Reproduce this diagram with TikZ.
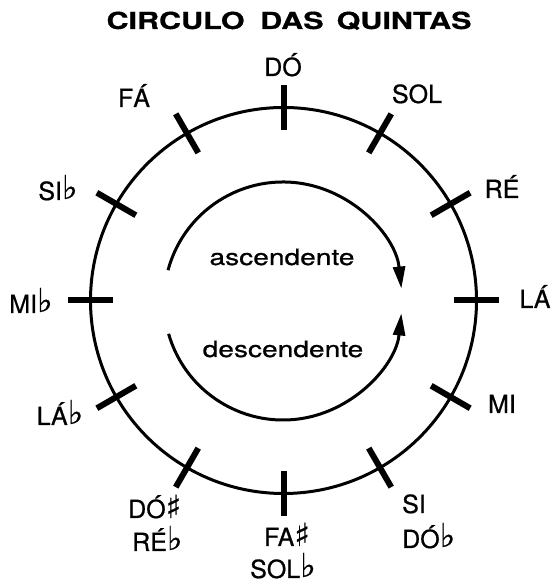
\documentclass[tikz,border=0pt]{standalone}
\usepackage{fontspec}
\setmainfont{TeX Gyre Heros}
\newfontfamily\medfont{TeX Gyre Heros}[FakeBold=0.7]
\newfontfamily\heavyfont{TeX Gyre Heros Bold}[FakeBold=0.6]
\newfontfamily\dejavu{DejaVu Sans}[FakeBold=0.5]
\usetikzlibrary{arrows.meta,calc}
\newcommand\myflat{\raisebox{1pt}{\dejavu\fontsize{33}{33}\selectfont\char"266D}}
\newcommand\mysharp{{\dejavu\fontsize{32}{32}\selectfont\char"266F}}
\begin{document}
\begin{tikzpicture}[x=1pt,y=1pt,
  lbl/.style={inner sep=0pt, font=\medfont\fontsize{25}{25}\selectfont, anchor=base},
  lbll/.style={lbl, anchor=base west},
  inner/.style={inner sep=0pt, anchor=base, font=\medfont\fontsize{22.5}{22.5}\selectfont, xscale=1.25},
  titlestyle/.style={inner sep=0pt, anchor=base, font=\heavyfont\fontsize{23.5}{23.5}\selectfont, xscale=1.3},
  ring/.style={line width=3pt},
  tickmark/.style={line width=6pt},
  turn/.style={line width=3pt, -{Triangle[length=22pt,width=12pt]}}]
\useasboundingbox (0,0) rectangle (552,585);
\coordinate (c) at (283.5,284.5);
\coordinate (ci) at (283,284);
\draw[ring] (c) circle[radius=193];
\foreach \a in {0,30,...,330}
  \draw[tickmark] ($(c)+(\a:170.5)$) -- ($(c)+(\a:215.5)$);
\draw[turn] ($(ci)+(165:119)$) arc[start angle=165, end angle=6, radius=119];
\draw[turn] ($(ci)+(196:119)$) arc[start angle=196, end angle=354, radius=119];
\node[titlestyle] (title) at (289,556) {CIRCULO\hspace{12pt}DAS\hspace{10pt}QUINTAS};
\node[inner] (asc) at (282,320) {ascendente};
\node[inner] (desc) at (283,228) {descendente};
\node[lbl] (do) at (283,509) {DÓ};
\node[lbl] (fa) at (134,478) {FÁ};
\node[lbl] (sol) at (417,482) {SOL};
\node[lbl] (re) at (502,387) {RÉ};
\node[lbl] (la) at (535,277) {LÁ};
\node[lbl] (mi) at (502,172) {MI};
\node[lbl] (sib) at (58,385) {SI\myflat};
\node[lbl] (mib) at (31,272) {MI\myflat};
\node[lbl] (lab) at (60,160) {LÁ\myflat};
\node[lbll] (dos) at (128,67) {DÓ\mysharp};
\node[lbll] (reb) at (132,34) {RÉ\myflat};
\node[lbl] (fas) at (287,39) {FA\mysharp};
\node[lbl] (solb) at (283,7) {SOL\myflat};
\node[lbll] (si) at (402,72) {SI};
\node[lbll] (dob) at (402,37) {DÓ\myflat};
\end{tikzpicture}
\end{document}
